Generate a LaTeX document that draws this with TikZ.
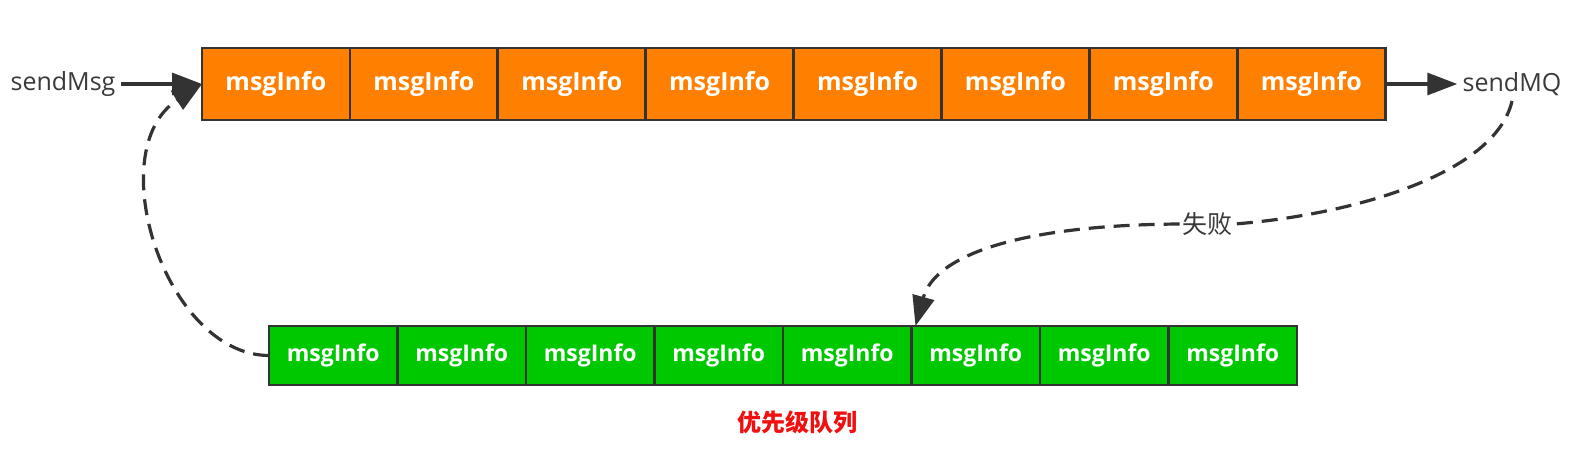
\documentclass[tikz,border=0pt]{standalone}
\usepackage{fontspec}
\setmainfont{Open Sans}
\newfontfamily\cjk{Noto Sans CJK SC}
\usetikzlibrary{arrows.meta}

\definecolor{boxorange}{HTML}{FF8000}
\definecolor{boxgreen}{HTML}{00C800}
\definecolor{edgegray}{HTML}{333333}
\definecolor{textgray}{HTML}{3A3A3A}
\definecolor{queuered}{HTML}{F01010}

\begin{document}
\begin{tikzpicture}[x=0.5pt,y=-0.5pt,
  cell/.style={draw=edgegray,line width=1.4pt,inner sep=0pt,outer sep=0pt,text=white},
  topcell/.style={cell,fill=boxorange,minimum width=73.95pt,minimum height=36pt,
    font=\bfseries\fontsize{12.5}{14}\selectfont},
  lowcell/.style={cell,fill=boxgreen,minimum width=64.25pt,minimum height=29.5pt,
    font=\bfseries\fontsize{11.5}{13}\selectfont},
  tag/.style={text=textgray,inner sep=2.5pt,font=\fontsize{12.5}{14}\selectfont},
  flow/.style={-{Triangle[length=15pt,width=11pt]},line width=1.6pt,draw=edgegray},
  retry/.style={flow,dash pattern=on 8pt off 4.5pt}]

  \useasboundingbox (0,0) rectangle (1583,468);

  % upper queue
  \foreach \i in {1,...,8}
  {
    \pgfmathsetmacro{\x}{202+147.9*(\i-0.5)}
    \node (t\i) at (\x,84) [topcell] {msgInfo};
  }

  % priority queue
  \foreach \i in {1,...,8}
  {
    \pgfmathsetmacro{\x}{269+128.5*(\i-0.5)}
    \node (b\i) at (\x,355.5) [lowcell] {msgInfo};
  }

  \node (send) at (63,84) [tag] {sendMsg};
  \node (mq) at (1512,84) [tag] {sendMQ};
  \node (fail) at (1207,224) [tag,inner sep=1pt,font=\cjk\fontsize{12.5}{14}\selectfont] {失败};
  \node (title) at (797,422) [text=queuered,font=\cjk\bfseries\fontsize{12}{14}\selectfont] {优先级队列};

  \coordinate (hit) at ([xshift=2pt]b6.north west);

  \draw [flow] (send) -- (t1);
  \draw [flow] (t8) -- (mq);

  \draw [retry,-] (mq.south) .. controls (1495,175) and (1350,215) .. (fail.east);
  \draw [retry] (fail.west) .. controls (1020,225) and (935,255) .. (hit);
  \draw [retry] (b1.west) .. controls (165,355) and (100,150) .. (t1.west);

\end{tikzpicture}
\end{document}
